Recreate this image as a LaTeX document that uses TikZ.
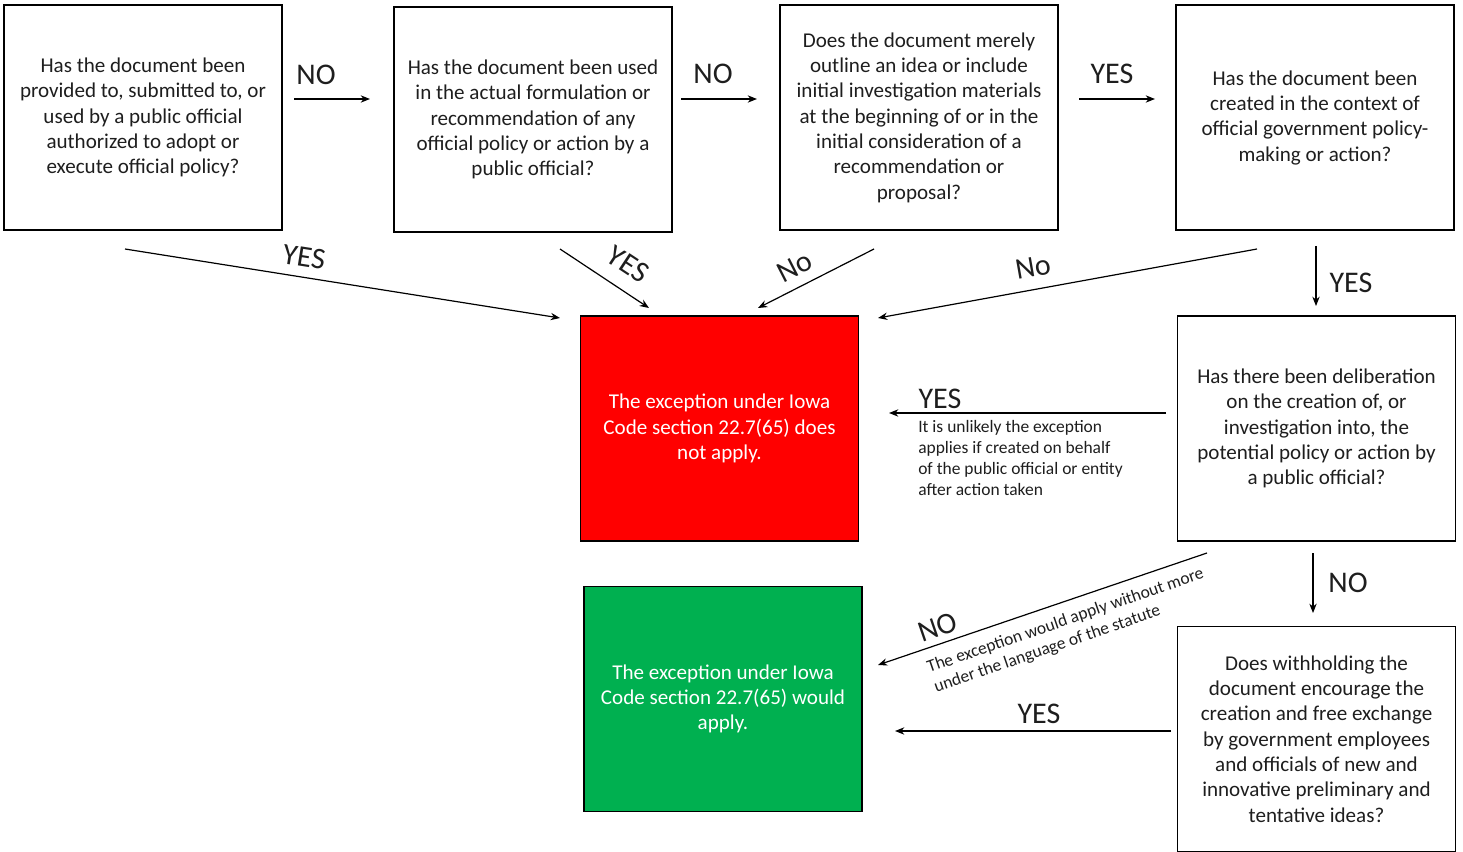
\documentclass[tikz,border=0pt]{standalone}
\usepackage{fontspec}
\setmainfont{Carlito}
\usetikzlibrary{arrows.meta}
\definecolor{txt}{RGB}{30,30,30}
\definecolor{exred}{RGB}{255,0,0}
\definecolor{exgreen}{RGB}{0,176,80}
\begin{document}
\begin{tikzpicture}[x=0.75pt,y=-0.75pt,
 box/.style={draw=black,line width=1.2pt,inner sep=0pt,minimum width=208.5pt,minimum height=168.75pt,
   align=center,text=txt,font=\fontsize{15.8}{19}\selectfont},
 lab/.style={text=txt,font=\fontsize{22.5}{24}\selectfont,inner sep=0pt},
 note/.style={text=txt,font=\fontsize{13.1}{15.75}\selectfont,inner sep=0pt},
 arr/.style={-{Stealth[length=7pt,width=5.5pt]},line width=0.9pt}]
\useasboundingbox (0,0) rectangle (1463,852);
% boxes
\node[box] (b1) at (143,117.5) {Has the document been\\provided to, submitted to, or\\used by a public official\\authorized to adopt or\\execute official policy?};
\node[box] (b2) at (533,119.5) {Has the document been used\\in the actual formulation or\\recommendation of any\\official policy or action by a\\public official?};
\node[box] (b3) at (919,117.5) {Does the document merely\\outline an idea or include\\initial investigation materials\\at the beginning of or in the\\initial consideration of a\\recommendation or\\proposal?};
\node[box] (b4) at (1315,117.5) {Has the document been\\created in the context of\\official government policy-\\making or action?};
\node[box,fill=exred,text=white] (red) at (719.5,428.5) {The exception under Iowa\\Code section 22.7(65) does\\not apply.};
\node[box] (b5) at (1316.5,428.5) {Has there been deliberation\\on the creation of, or\\investigation into, the\\potential policy or action by\\a public official?};
\node[box,fill=exgreen,text=white] (green) at (723,699) {The exception under Iowa\\Code section 22.7(65) would\\apply.};
\node[box] (b6) at (1316.5,739) {Does withholding the\\document encourage the\\creation and free exchange\\by government employees\\and officials of new and\\innovative preliminary and\\tentative ideas?};
% connector end points
\coordinate (s12) at (294,99);  \coordinate (e12) at (370,99);
\coordinate (s23) at (681,99);  \coordinate (e23) at (757,99);
\coordinate (s34) at (1079,99); \coordinate (e34) at (1155,99);
\coordinate (s1r) at (125,249); \coordinate (e1r) at (560,318);
\coordinate (s2r) at (560,249); \coordinate (e2r) at (649,308);
\coordinate (s3r) at (874,249); \coordinate (e3r) at (758,308);
\coordinate (s4r) at (1257,249); \coordinate (e4r) at (878,318);
\coordinate (s45) at (1316,246); \coordinate (e45) at (1316,306);
\coordinate (s5r) at (1166,413); \coordinate (e5r) at (889,413);
\coordinate (s56) at (1313,553); \coordinate (e56) at (1313,613);
\coordinate (s5g) at (1207,553); \coordinate (e5g) at (878,665);
\coordinate (s6g) at (1171,731); \coordinate (e6g) at (895,731);
% connectors
\draw[arr] (s12) -- (e12);
\draw[arr] (s23) -- (e23);
\draw[arr] (s34) -- (e34);
\draw[arr] (s1r) -- (e1r);
\draw[arr] (s2r) -- (e2r);
\draw[arr] (s3r) -- (e3r);
\draw[arr] (s4r) -- (e4r);
\draw[arr] (s45) -- (e45);
\draw[arr] (s5r) -- (e5r);
\draw[arr] (s56) -- (e56);
\draw[arr] (s5g) -- (e5g);
\draw[arr] (s6g) -- (e6g);
% labels
\node[lab] (l12) at (316,75) {NO};
\node[lab] (l23) at (713,74) {NO};
\node[lab] (l34) at (1112,74) {YES};
\node[lab,rotate=-9] (l1r) at (304,257) {YES};
\node[lab,rotate=-33.5] (l2r) at (628,264) {YES};
\node[lab,rotate=27] (l3r) at (795,267) {No};
\node[lab,rotate=10] (l4r) at (1033,267) {No};
\node[lab] (l45) at (1351,283) {YES};
\node[lab] (l5r) at (940,399) {YES};
\node[note,anchor=north west,align=left] (n5r) at (918,420) {It is unlikely the exception\\applies if created on behalf\\of the public official or entity\\after action taken};
\node[lab] (l56) at (1348,583) {NO};
\node[lab,rotate=19] (l5g) at (938,627) {NO};
\node[note,rotate=19,align=left] (n5g) at (1069,631) {The exception would apply without more\\under the language of the statute};
\node[lab] (l6g) at (1039,714) {YES};
\end{tikzpicture}
\end{document}
